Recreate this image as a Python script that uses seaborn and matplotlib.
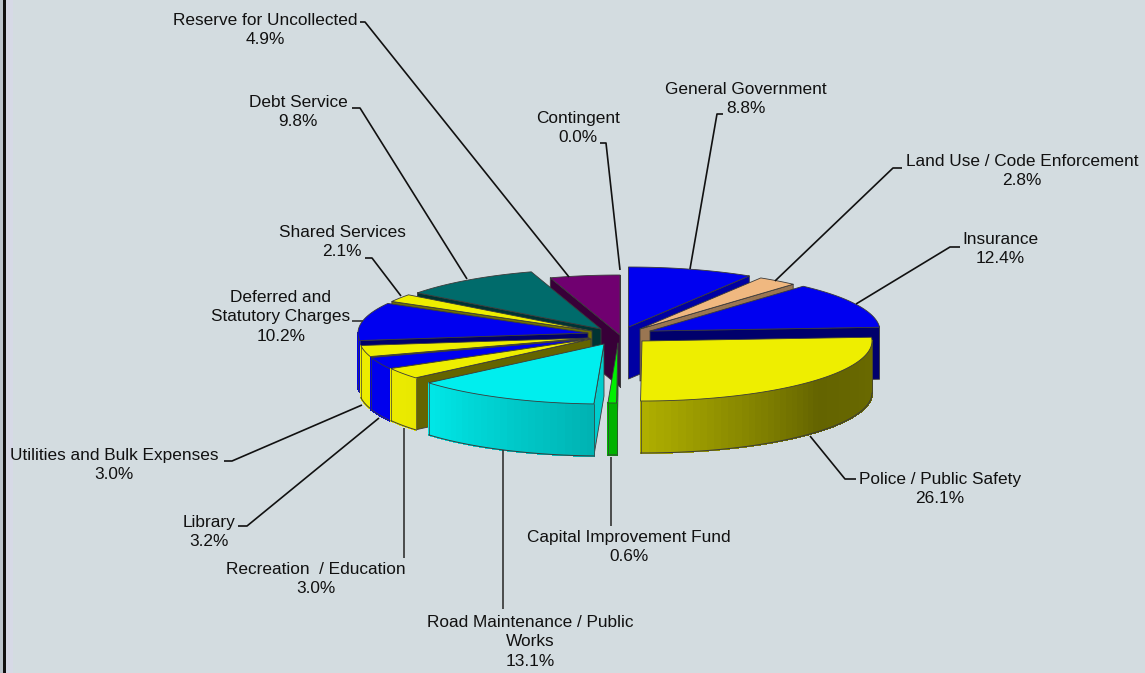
import numpy as np
import matplotlib
matplotlib.use("Agg")
import matplotlib.pyplot as plt
from matplotlib.colors import to_rgb
import seaborn as sns

# ---- data ----
categories = ["General Government", "Land Use / Code Enforcement", "Insurance",
              "Police / Public Safety", "Capital Improvement Fund",
              "Road Maintenance / Public\nWorks", "Recreation  / Education", "Library",
              "Utilities and Bulk Expenses", "Deferred and\nStatutory Charges",
              "Shared Services", "Debt Service", "Reserve for Uncollected", "Contingent"]
shares = [8.8, 2.8, 12.4, 26.1, 0.6, 13.1, 3.0, 3.2, 3.0, 10.2, 2.1, 9.8, 4.9, 0.0]

# ---- styling ----
slice_colors = ["#0000F0", "#F0B880", "#0000F0", "#EEEE00", "#00F000", "#00EEEE", "#EEEE00",
                "#0000F0", "#EEEE00", "#0000F0", "#EEEE00", "#006B6B", "#700070", "#700070"]
hub_x = [628.5, 640, 650, 642, 618, 604, 591, 590, 589, 588, 592, 601, 620, 620]
hub_y = [327, 329, 331, 341, 343, 344, 339, 339, 338, 333, 331, 329, 335, 335]
draw_order = [12, 11, 0, 1, 2, 3, 10, 9, 8, 7, 6, 4, 5]
label_x = [746, 1022, 1000, 940, 629, 530, 316, 209, 114, 281, 342, 298, 265, 578]
label_y = [99, 171, 249, 489, 547, 642, 579, 532, 465, 317, 242, 112, 30, 128]
leaders = [
    [(690, 269), (717, 114), (723, 114)],
    [(775, 281), (893, 168), (902, 168)],
    [(856, 304), (950, 247), (960, 247)],
    [(810, 436), (845, 479), (856, 479)],
    [(611, 457), (611, 526)],
    [(503, 450), (503, 609)],
    [(404, 428), (404, 558)],
    [(379, 418), (247, 526), (238, 526)],
    [(362, 405), (232, 461), (224, 461)],
    [(352, 321), (363, 321)],
    [(401, 296), (372, 258), (365, 258)],
    [(467, 279), (360, 108), (352, 108)],
    [(569, 277), (365, 22), (360, 22)],
    [(620, 270), (606, 143), (600, 143)],
]
RX, RY, DEPTH = 230, 60, 52
BG = "#D3DCE0"
EDGE = "#3A3A3A"

sns.set_theme(style="white")
plt.rcParams["font.family"] = ["Liberation Sans", "DejaVu Sans"]
palette = sns.color_palette(slice_colors)

fig, ax = plt.subplots(figsize=(11.45, 6.73), dpi=100)
fig.subplots_adjust(0, 0, 1, 1)
fig.patch.set_facecolor(BG)
ax.set_facecolor(BG)
ax.set_xlim(0, 1145)
ax.set_ylim(673, 0)
ax.axis("off")
ax.axvspan(0, 3, color="#BCC4CC", lw=0)
ax.axvspan(3, 5.5, color="#111111", lw=0)
ax.axvspan(5.5, 13, color="#D6D9E6", lw=0)


def shade(c, f):
    return tuple(np.clip(np.array(to_rgb(c)) * f, 0, 1))


def wall_light(f):
    return np.interp(f, [0.25, 0.36, 0.5, 0.64, 0.75], [0.45, 0.42, 0.74, 0.98, 1.0])


def face_light(f):
    return np.interp(f, [0, 0.088, 0.116, 0.24, 0.5, 0.507, 0.638, 0.95, 1],
                     [0.7, 0.68, 0.64, 0.45, 0.8, 0.86, 0.42, 0.5, 0.5])


fractions = np.cumsum([0] + shares) / np.sum(shares)


def rim(cx, cy, f):
    t = 2 * np.pi * np.asarray(f)
    return cx + RX * np.sin(t), cy - RY * np.cos(t)


for i in draw_order:
    f0, f1 = fractions[i], fractions[i + 1]
    cx, cy = hub_x[i], hub_y[i]
    col = palette[i]
    # radial face that faces the viewer
    for f, visible in ((f0, np.sin(2 * np.pi * f0) < 0), (f1, np.sin(2 * np.pi * f1) > 0)):
        if visible:
            x, y = rim(cx, cy, f)
            ax.fill([cx, x, x, cx], [cy, y, y + DEPTH, cy + DEPTH],
                    color=shade(col, face_light(f)), ec=EDGE, lw=0.6, zorder=2, joinstyle="round")
    # outer wall
    a, b = max(f0, 0.25), min(f1, 0.75)
    if b > a:
        ff = np.linspace(a, b, max(int((b - a) * 200), 2))
        xs, ys = rim(cx, cy, ff)
        for k in range(len(ff) - 1):
            ax.fill([xs[k], xs[k + 1], xs[k + 1], xs[k]],
                    [ys[k], ys[k + 1], ys[k + 1] + DEPTH, ys[k] + DEPTH],
                    color=shade(col, wall_light(ff[k])), lw=0.8, antialiased=False, zorder=2)
        ax.plot(xs, ys + DEPTH, color=EDGE, lw=0.7, zorder=2)
        ax.plot([xs[0], xs[0]], [ys[0], ys[0] + DEPTH], color=EDGE, lw=0.5, zorder=2)
        ax.plot([xs[-1], xs[-1]], [ys[-1], ys[-1] + DEPTH], color=EDGE, lw=0.5, zorder=2)
    # top face
    ff = np.linspace(f0, f1, 80)
    xs, ys = rim(cx, cy, ff)
    ax.fill(np.r_[cx, xs], np.r_[cy, ys], color=col, ec=EDGE, lw=0.6, zorder=2, joinstyle="round")

for i, name in enumerate(categories):
    pts = np.array(leaders[i])
    grey = "#333333" if len(pts) == 2 else "#111111"
    ax.plot(pts[:, 0], pts[:, 1], color=grey, lw=1.2, zorder=3, solid_capstyle="butt")
    ax.text(label_x[i], label_y[i], f"{name}\n{shares[i]:.1f}%", ha="center", va="center",
            fontsize=12.45, color="#111111", linespacing=1.4, zorder=4)

fig.savefig("out.png", dpi=100, facecolor=BG)
